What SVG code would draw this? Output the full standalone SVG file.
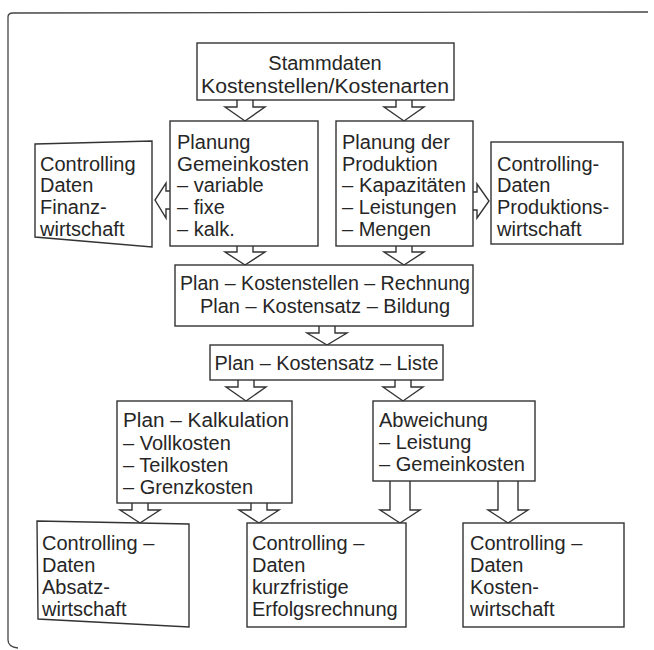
<svg xmlns="http://www.w3.org/2000/svg" width="654" height="650" viewBox="0 0 654 650">
<style>
.bx{fill:#fff;stroke:#333;stroke-width:1.4}
.ar{fill:#fff;stroke:#333;stroke-width:1.4;stroke-linejoin:miter}
.fr{fill:none;stroke:#444;stroke-width:1.3}
text{font-family:"Liberation Sans",Arial,sans-serif;font-size:20px;fill:#262626}
.c{text-anchor:middle}
</style>
<rect width="654" height="650" fill="#fff"/>
<g id="frame">
<path class="fr" d="M8,17 Q8,13 13,13 L648,12"/>
<path class="fr" d="M8,17 L8,640 Q8,647 18,648"/>
</g>
<g id="connectors">
<polyline class="ar" points="237,100 237,107 225,107 245,121 265,107 253,107 253,100"/>
<polyline class="ar" points="396,100 396,107 384,107 404,121 424,107 412,107 412,100"/>
<polyline class="ar" points="237,246 237,252 225,252 245,265 265,252 253,252 253,246"/>
<polyline class="ar" points="396,246 396,252 384,252 404,265 424,252 412,252 412,246"/>
<polyline class="ar" points="319,326 319,333 307,333 327,345 347,333 335,333 335,326"/>
<polyline class="ar" points="238,380 238,387 226,387 246,401 266,387 254,387 254,380"/>
<polyline class="ar" points="395,380 395,387 383,387 403,401 423,387 411,387 411,380"/>
<polyline class="ar" points="132,503 132,510 120,510 140,523 160,510 148,510 148,503"/>
<polyline class="ar" points="251,503 251,510 239,510 259,523 279,510 267,510 267,503"/>
<polyline class="ar" points="390,481 390,510 380,510 400,523 420,510 410,510 410,481"/>
<polyline class="ar" points="498,481 498,510 488,510 508,523 528,510 518,510 518,481"/>
<polyline class="ar" points="170,191 166,191 166,183 155,200 166,218 166,209 170,209"/>
<polyline class="ar" points="473,192 477,192 477,184 489,201 477,218 477,210 473,210"/>
</g>
<g id="stammdaten">
<rect class="bx" x="197" y="43" width="257" height="57"/>
<text class="c" x="325" y="70">Stammdaten</text>
<text class="c" x="325" y="93" textLength="248" lengthAdjust="spacingAndGlyphs">Kostenstellen/Kostenarten</text>
</g>
<g id="planung-gemeinkosten">
<rect class="bx" x="170" y="121" width="148" height="125"/>
<text x="177" y="149">Planung</text>
<text x="177" y="170.5" textLength="132" lengthAdjust="spacingAndGlyphs">Gemeinkosten</text>
<text x="177" y="192">– variable</text>
<text x="177" y="214">– fixe</text>
<text x="177" y="235.5">– kalk.</text>
</g>
<g id="planung-produktion">
<rect class="bx" x="336" y="121" width="137" height="125"/>
<text x="342" y="149">Planung der</text>
<text x="342" y="170.5">Produktion</text>
<text x="342" y="192" textLength="124" lengthAdjust="spacingAndGlyphs">– Kapazitäten</text>
<text x="342" y="214">– Leistungen</text>
<text x="342" y="235.5">– Mengen</text>
</g>
<g id="controlling-finanz">
<polygon class="bx" points="35,144 152,141 152,247 35,237"/>
<text x="40" y="170.5">Controlling</text>
<text x="40" y="192">Daten</text>
<text x="40" y="214">Finanz-</text>
<text x="40" y="235.5">wirtschaft</text>
</g>
<g id="controlling-produktion">
<rect class="bx" x="491" y="142" width="132" height="102"/>
<text x="497" y="170.5">Controlling-</text>
<text x="497" y="192">Daten</text>
<text x="497" y="214">Produktions-</text>
<text x="497" y="235.5">wirtschaft</text>
</g>
<g id="plan-kostenstellen">
<rect class="bx" x="175" y="265" width="298" height="61"/>
<text class="c" x="325" y="290" textLength="290" lengthAdjust="spacingAndGlyphs">Plan – Kostenstellen – Rechnung</text>
<text class="c" x="325" y="313">Plan – Kostensatz – Bildung</text>
</g>
<g id="plan-kostensatz-liste">
<rect class="bx" x="210" y="345" width="233" height="35"/>
<text class="c" x="326.5" y="370" textLength="224" lengthAdjust="spacingAndGlyphs">Plan – Kostensatz – Liste</text>
</g>
<g id="plan-kalkulation">
<rect class="bx" x="117" y="401" width="175" height="102"/>
<text x="123" y="427" textLength="166" lengthAdjust="spacingAndGlyphs">Plan – Kalkulation</text>
<text x="123" y="450">– Vollkosten</text>
<text x="123" y="472">– Teilkosten</text>
<text x="123" y="494">– Grenzkosten</text>
</g>
<g id="abweichung">
<rect class="bx" x="373" y="401" width="162" height="80"/>
<text x="379" y="427">Abweichung</text>
<text x="379" y="449">– Leistung</text>
<text x="379" y="471" textLength="146" lengthAdjust="spacingAndGlyphs">– Gemeinkosten</text>
</g>
<g id="controlling-absatz">
<polygon class="bx" points="37,521 189,524 189,627 38,619"/>
<text x="42" y="550">Controlling –</text>
<text x="42" y="572">Daten</text>
<text x="42" y="594">Absatz-</text>
<text x="42" y="616">wirtschaft</text>
</g>
<g id="controlling-erfolg">
<rect class="bx" x="247" y="523" width="159" height="104"/>
<text x="252" y="550">Controlling –</text>
<text x="252" y="572">Daten</text>
<text x="252" y="594">kurzfristige</text>
<text x="252" y="616">Erfolgsrechnung</text>
</g>
<g id="controlling-kosten">
<rect class="bx" x="463" y="523" width="161" height="104"/>
<text x="470" y="550">Controlling –</text>
<text x="470" y="572">Daten</text>
<text x="470" y="594">Kosten-</text>
<text x="470" y="616">wirtschaft</text>
</g>
</svg>
